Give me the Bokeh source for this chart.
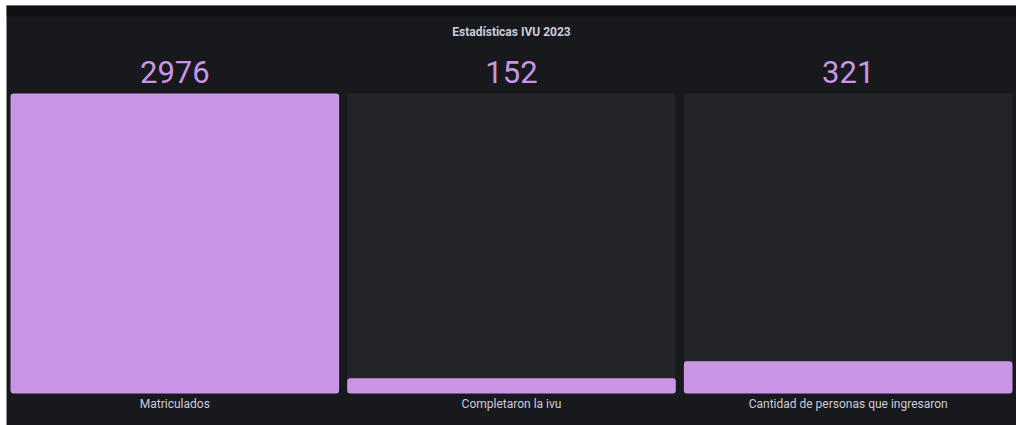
from bokeh.plotting import figure
from bokeh.models import FactorRange, Range1d, BoxAnnotation, ColumnDataSource
from bokeh.core.properties import value
from bokeh.embed import file_html
from bokeh.resources import INLINE

# ---- data ----
title_text = "Estadísticas IVU 2023"
categories = ["Matriculados", "Completaron la ivu", "Cantidad de personas que ingresaron"]
counts = [2976, 152, 321]

# ---- layout constants (pixels) ----
W, H = 1016, 425
LEFT, TOP = 6, 5
frame_h = H - TOP
vmax = max(counts)
track_px = 300          # pixel height of the full bar track
pad_bottom_px = 32
pad_top_px = frame_h - track_px - pad_bottom_px
unit = vmax / track_px  # data units per pixel

PANEL = "#18191d"
STRIP = "#0f1013"
TRACK = "#232428"
PURPLE = "#ca95e5"
TEXT = "#ccccdc"

p = figure(width=W, height=H, output_backend="svg", toolbar_location=None,
           x_range=FactorRange(*categories, range_padding=0),
           y_range=Range1d(-pad_bottom_px * unit, vmax + pad_top_px * unit),
           min_border_left=LEFT, min_border_right=0,
           min_border_top=TOP, min_border_bottom=0)
p.axis.visible = False
p.grid.visible = False
p.outline_line_color = None
p.background_fill_color = PANEL
p.border_fill_color = "white"

# dark top strip
p.add_layout(BoxAnnotation(bottom=vmax + (pad_top_px - 11) * unit,
                           fill_color=STRIP, fill_alpha=1, line_alpha=0))

src = ColumnDataSource(dict(cat=categories, val=counts,
                            track=[vmax] * len(counts),
                            lbl=[str(v) for v in counts]))

# unfilled track
p.vbar(x="cat", top="track", bottom=0, width=0.976, source=src,
       fill_color=TRACK, line_color=None, border_radius=3)
# value bars
p.vbar(x="cat", top="val", bottom=0, width=0.976, source=src,
       fill_color=PURPLE, line_color=None, border_radius=3)

# values above each bar
p.text(x="cat", y=vmax + 22 * unit, text="lbl", source=src,
       text_font=value("Roboto"), text_font_size="31px", text_color=PURPLE,
       text_align="center", text_baseline="middle")

# category labels below
p.text(x="cat", y=-10 * unit, text="cat", source=src,
       text_font=value("Roboto"), text_font_size="12px", text_color=TEXT,
       text_align="center", text_baseline="middle")

# title
p.text(x=[categories[1]], y=[vmax + 62 * unit], text=[title_text],
       text_font=value("Roboto"), text_font_size="12px", text_font_style="bold",
       text_color=TEXT, text_align="center", text_baseline="middle")

open("out.html", "w").write(file_html(p, INLINE))
